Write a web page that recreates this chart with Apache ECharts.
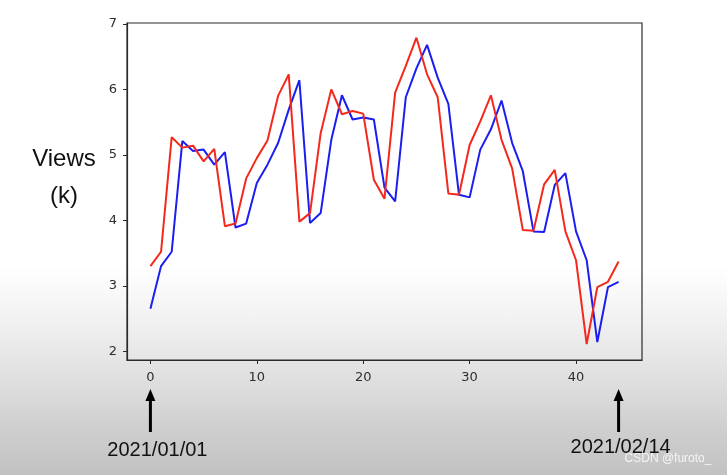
<!DOCTYPE html>
<html>
<head>
<meta charset="utf-8">
<script src="https://cdn.jsdelivr.net/npm/echarts@6/dist/echarts.min.js"></script>
<style>
html,body{margin:0;padding:0;}
#c{width:727px;height:475px;background:linear-gradient(to bottom,#ffffff 0%,#ffffff 56%,#f3f3f3 66%,#e2e2e2 78%,#cfcfcf 90%,#c2c2c2 100%);}
</style>
</head>
<body>
<div id="c"></div>
<script>
// Day index 0..44
const days = [0,1,2,3,4,5,6,7,8,9,10,11,12,13,14,15,16,17,18,19,20,21,22,23,24,25,26,27,28,29,30,31,32,33,34,35,36,37,38,39,40,41,42,43,44];
const redValues = [3.30,3.52,5.27,5.11,5.14,4.90,5.09,3.91,3.95,4.64,4.95,5.22,5.90,6.23,3.98,4.11,5.33,6.00,5.62,5.67,5.63,4.62,4.33,5.95,6.36,6.79,6.23,5.88,4.41,4.39,5.15,5.51,5.91,5.23,4.79,3.85,3.84,4.55,4.77,3.83,3.39,2.11,2.98,3.06,3.37];
const blueValues = [2.65,3.30,3.52,5.21,5.06,5.08,4.85,5.04,3.89,3.95,4.57,4.85,5.18,5.69,6.14,3.96,4.11,5.23,5.91,5.54,5.57,5.54,4.50,4.29,5.88,6.32,6.68,6.18,5.78,4.39,4.35,5.08,5.39,5.83,5.18,4.75,3.83,3.82,4.54,4.72,3.83,3.39,2.14,2.98,3.06];
const xTicks = [0,10,20,30,40];
const yTicks = [2,3,4,5,6,7];
const yLabelLines = ['Views','(k)'];
const startDate = '2021/01/01';
const endDate = '2021/02/14';
const watermark = 'CSDN @furoto_';

const chart = echarts.init(document.getElementById('c'), null, {renderer:'canvas'});
const axisColor = '#2a2a2a';
const tickFont = {color:'#2e2e2e', fontSize:13, fontFamily:'DejaVu Sans'};
const option = {
  backgroundColor: 'transparent',
  animation: false,
  grid: {left:127, right:85, top:23, bottom:115, show:true, borderColor:axisColor, borderWidth:1.2, backgroundColor:'transparent'},
  xAxis: {
    type:'value', min:-2.2, max:46.2,
    splitLine:{show:false},
    axisLine:{show:true, onZero:false, lineStyle:{color:axisColor, width:1.2}},
    axisTick:{show:true, customValues:xTicks, length:4, lineStyle:{color:axisColor}},
    axisLabel:Object.assign({customValues:xTicks, margin:11}, tickFont)
  },
  yAxis: {
    type:'value', min:1.866, max:7.014,
    splitLine:{show:false},
    axisLine:{show:true, onZero:false, lineStyle:{color:axisColor, width:1.2}},
    axisTick:{show:true, customValues:yTicks, length:4, lineStyle:{color:axisColor}},
    axisLabel:Object.assign({customValues:yTicks, margin:10}, tickFont)
  },
  series: [
    {type:'line', name:'red', data:days.map((d,i)=>[d,redValues[i]]), showSymbol:false, lineStyle:{color:'#f4281c', width:2}, z:3},
    {type:'line', name:'blue', data:days.map((d,i)=>[d,blueValues[i]]), showSymbol:false, lineStyle:{color:'#1c1ef0', width:2}, z:2}
  ]
};
chart.setOption(option);

const x0 = chart.convertToPixel({gridIndex:0}, [days[0], 2])[0];
const x1 = chart.convertToPixel({gridIndex:0}, [days[days.length-1], 2])[0];
const labelFont = 'Liberation Sans';
function arrow(x){
  return [
    {type:'line', shape:{x1:x, y1:432, x2:x, y2:398}, style:{stroke:'#000', lineWidth:3}},
    {type:'polygon', shape:{points:[[x,389],[x-5,401],[x+5,401]]}, style:{fill:'#000'}}
  ];
}
chart.setOption({
  graphic: [
    {type:'text', x:64, y:159, style:{text:yLabelLines[0], font:'24px '+labelFont, fill:'#111', align:'center', verticalAlign:'middle'}},
    {type:'text', x:64, y:196, style:{text:yLabelLines[1], font:'24px '+labelFont, fill:'#111', align:'center', verticalAlign:'middle'}},
    ...arrow(x0),
    ...arrow(x1),
    {type:'text', x:x0+7, y:450, style:{text:startDate, font:'20px '+labelFont, fill:'#111', align:'center', verticalAlign:'middle'}},
    {type:'text', x:x1+2, y:447, style:{text:endDate, font:'20px '+labelFont, fill:'#111', align:'center', verticalAlign:'middle'}},
    {type:'text', x:668, y:459, style:{text:watermark, font:'12px '+labelFont, fill:'#f4f4f4', align:'center', verticalAlign:'middle'}}
  ]
});
</script>
</body>
</html>
